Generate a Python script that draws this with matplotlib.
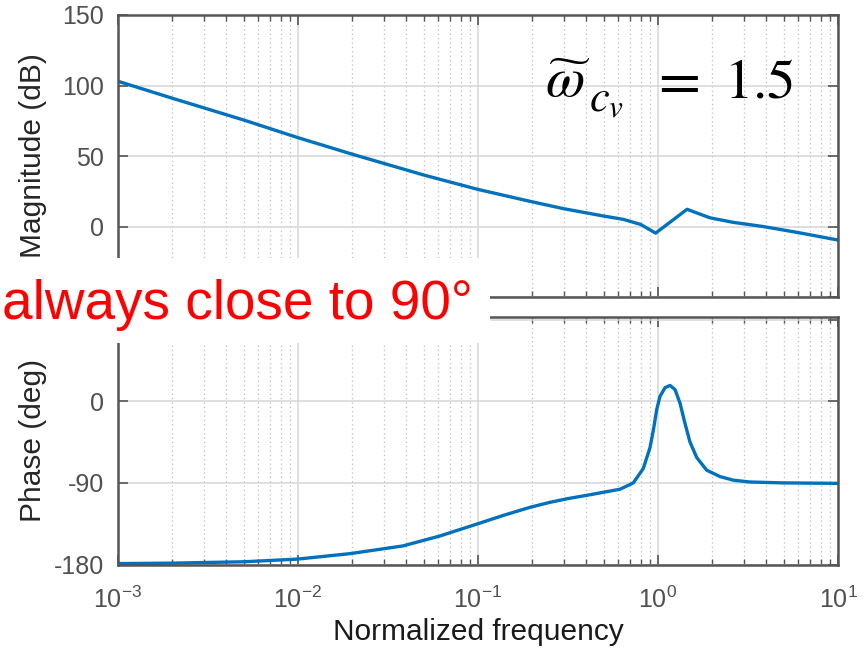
import matplotlib
matplotlib.use("Agg")
import matplotlib.pyplot as plt
from matplotlib.patches import Rectangle
from matplotlib.ticker import LogLocator, FixedLocator, NullFormatter

plt.rcParams['font.family'] = ['Liberation Sans', 'DejaVu Sans']
plt.rcParams['axes.unicode_minus'] = False

# ---- data ----
mag_freq = [0.001, 0.002, 0.005, 0.01, 0.02, 0.05, 0.1, 0.2, 0.3, 0.5, 0.64,
            0.8, 0.97, 1.45, 1.94, 2.6, 3.83, 6.0, 10.0]
mag_db = [103, 91, 75.5, 63, 51.3, 36.5, 26.3, 17.5, 12.6, 7.4, 5.1,
          1.5, -4.7, 12.2, 6.2, 3.0, 0.0, -4.3, -9.6]

ph_freq = [0.001, 0.002, 0.005, 0.01, 0.0195, 0.0383, 0.0615, 0.1, 0.14, 0.194,
           0.25, 0.312, 0.42, 0.615, 0.729, 0.829, 0.903, 0.942, 0.984, 1.026,
           1.094, 1.166, 1.243, 1.325, 1.413, 1.506, 1.641, 1.865, 2.21, 2.62,
           3.24, 4.95, 10.0]
ph_deg = [-179, -178.5, -177, -174, -168, -159.5, -148.5, -135, -125.5, -117,
          -111.5, -107.5, -103, -97, -90, -74, -51, -32, -9, 5.5,
          15, 17.5, 13, -2, -24.5, -45, -62, -76, -83, -87,
          -89, -90, -90.5]

mag_yticks = [-50, 0, 50, 100, 150]
mag_yticklabels = ['', '0', '50', '100', '150']
ph_yticks = [-180, -90, 0, 90]
ph_yticklabels = ['-180', '-90', '0', '']
mag_ylim = (-50, 150)
ph_ylim = (-180, 93)
xlim = (1e-3, 1e1)

line_color = '#0072BD'
tick_color = '#505050'
spine_color = '#555555'

fig = plt.figure(figsize=(8.66, 6.49), dpi=100)
W, H = 866, 649
L, R = 118, 838
ax1 = fig.add_axes([L / W, 1 - 297 / H, (R - L) / W, (297 - 15) / H])
ax2 = fig.add_axes([L / W, 1 - 564.5 / H, (R - L) / W, (564.5 - 317) / H])

for ax in (ax1, ax2):
    ax.set_xscale('log')
    ax.set_xlim(*xlim)
    ax.xaxis.set_major_locator(LogLocator(base=10, numticks=10))
    ax.xaxis.set_minor_locator(LogLocator(base=10, subs=range(2, 10), numticks=20))
    ax.xaxis.set_minor_formatter(NullFormatter())
    ax.set_axisbelow(True)
    ax.grid(True, which='major', color='#d6d6d6', lw=1.1, ls='-')
    ax.grid(True, which='minor', axis='x', color='#bdbdbd', lw=0.9, ls=(0, (1, 2.5)))
    ax.tick_params(which='both', direction='in', top=True, right=True,
                   colors=spine_color, labelcolor=tick_color, labelsize=18)
    ax.tick_params(which='major', length=7, width=1.2)
    ax.tick_params(which='minor', length=4, width=1.0)
    ax.tick_params(axis='y', pad=10)
    for s in ax.spines.values():
        s.set_linewidth(1.8)
        s.set_color(spine_color)

ax1.plot(mag_freq, mag_db, color=line_color, lw=2.4)
ax1.set_ylim(*mag_ylim)
ax1.yaxis.set_major_locator(FixedLocator(mag_yticks))
ax1.set_yticklabels(mag_yticklabels)
ax1.tick_params(axis='x', labelbottom=False)
ax1.set_ylabel('Magnitude (dB)', fontsize=21.5, color='#262626')
ax1.yaxis.set_label_coords(-0.099, 0.5)

ax2.plot(ph_freq, ph_deg, color=line_color, lw=2.4)
ax2.set_ylim(*ph_ylim)
ax2.yaxis.set_major_locator(FixedLocator(ph_yticks))
ax2.set_yticklabels(ph_yticklabels)
ax2.tick_params(axis='x', pad=16)
ax2.set_ylabel('Phase (deg)', fontsize=21.5, color='#262626')
ax2.yaxis.set_label_coords(-0.099, 0.5)
ax2.set_xlabel('Normalized frequency', fontsize=21.5, color='#1a1a1a')
ax2.xaxis.set_label_coords(0.5, -0.215)

# white overlay box with annotation
fig.patches.append(Rectangle((0, 1 - 343 / H), 490 / W, (343 - 258) / H,
                             transform=fig.transFigure, facecolor='white',
                             edgecolor='none', zorder=10))
fig.text(2 / W, 1 - 319 / H, 'always close to 90\u00b0', color='#FF0000',
         fontsize=39.5, ha='left', va='baseline', zorder=11)

# omega annotation (pieces placed to match the reference spacing)
fig.text(545 / W, 1 - 97 / H, '$\\widetilde{\\omega}$', color='black',
         fontsize=41, ha='left', va='baseline', zorder=11, math_fontfamily='stix')
fig.text(589 / W, 1 - 112 / H, '$c_v$', color='black',
         fontsize=32, ha='left', va='baseline', zorder=11, math_fontfamily='stix')
fig.text(650 / W, 1 - 97 / H, '$=$', color='black',
         fontsize=44, ha='left', va='baseline', zorder=11, math_fontfamily='stix')
fig.text(724 / W, 1 - 97 / H, '$1.5$', color='black',
         fontsize=41, ha='left', va='baseline', zorder=11, math_fontfamily='stix')

fig.savefig('out.png', dpi=100)
